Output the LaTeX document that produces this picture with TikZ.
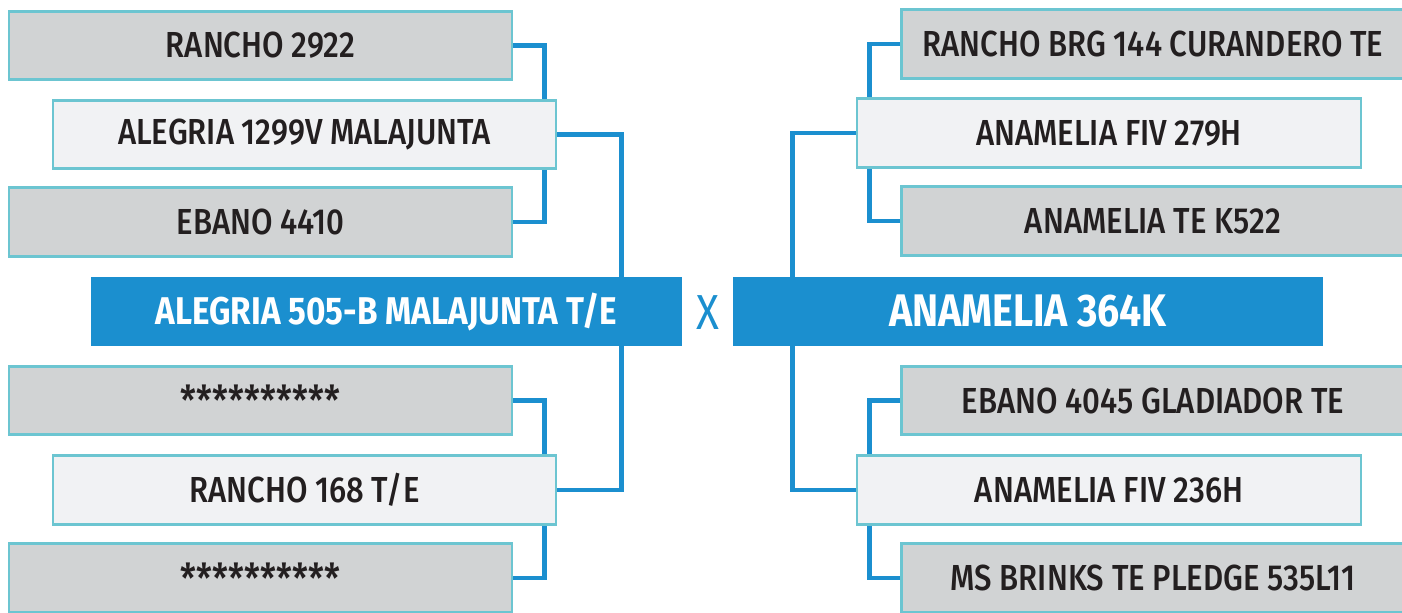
\documentclass[tikz,border=0pt]{standalone}
\usepackage{fontspec}
\setmainfont{Fira Sans}[FakeStretch=0.86]
\newfontfamily\boxfont{Fira Sans Medium}[FakeStretch=0.86]
\newfontfamily\mainfont{Fira Sans}[FakeStretch=0.86]
\usetikzlibrary{positioning}
\definecolor{boxgray}{HTML}{D1D3D4}
\definecolor{boxlight}{HTML}{F1F2F4}
\definecolor{boxedge}{HTML}{6CC5D1}
\definecolor{linkblue}{HTML}{1B8FCF}
\definecolor{textdark}{HTML}{231F20}
\newcommand{\hidden}{\raisebox{-0.3em}{\fontsize{23.5}{24}\selectfont **********}}
\tikzset{
  grandbox/.style={draw=boxedge,fill=boxgray,line width=1.6pt,inner sep=0pt,
    minimum width=10.06cm,minimum height=1.37cm,text=textdark,
    font=\boxfont\fontsize{20.6}{22}\selectfont},
  parentbox/.style={grandbox,fill=boxlight},
  mainbox/.style={fill=linkblue,inner sep=0pt,minimum width=11.82cm,
    minimum height=1.38cm,text=white,font=\mainfont\bfseries\fontsize{22}{24}\selectfont},
  link/.style={draw=linkblue,line width=2.8pt,line join=miter}
}
\begin{document}
\begin{tikzpicture}[x=0.02cm,y=-0.02cm]
  \useasboundingbox (0,0) rectangle (1402,612);
  \clip (0,0) rectangle (1402,612);

  % sire side
  \node[mainbox] (sire) at (386.5,311.5) {ALEGRIA 505-B MALAJUNTA T/E};
  \node[parentbox] (ss) at (304.5,134.5) {ALEGRIA 1299V MALAJUNTA};
  \node[parentbox] (sd) at (304.5,490) {RANCHO 168 T/E};
  \node[grandbox] (sss) at (260.5,45.5) {RANCHO 2922};
  \node[grandbox] (ssd) at (260.5,222) {EBANO 4410};
  \node[grandbox] (sds) at (260.5,400.5) {\hidden};
  \node[grandbox] (sdd) at (260.5,578) {\hidden};

  % dam side
  \node[mainbox,minimum width=11.8cm,font=\mainfont\bfseries\fontsize{26}{28}\selectfont] (dam) at (1028,311.5) {ANAMELIA 364K};
  \node[parentbox,minimum width=10.08cm] (ds) at (1109,133) {ANAMELIA FIV 279H};
  \node[parentbox,minimum width=10.08cm] (dd) at (1109,490) {ANAMELIA FIV 236H};
  \node[grandbox] (dss) at (1153,44) {RANCHO BRG 144 CURANDERO TE};
  \node[grandbox] (dsd) at (1153,221) {ANAMELIA TE K522};
  \node[grandbox] (dds) at (1153,400.5) {EBANO 4045 GLADIADOR TE};
  \node[grandbox] (ddd) at (1153,578) {MS BRINKS TE PLEDGE 535L11};

  \node[text=linkblue,font=\mainfont\fontsize{28}{30}\selectfont] (cross) at (708,313) {X};

  % sire links
  \draw[link] (sss.east) -- ++(31,0) coordinate (k1) -- (k1 |- ss.north);
  \draw[link] (ssd.east) -- ++(31,0) coordinate (k2) -- (k2 |- ss.south);
  \draw[link] (sds.east) -- ++(31,0) coordinate (k3) -- (k3 |- sd.north);
  \draw[link] (sdd.east) -- ++(31,0) coordinate (k4) -- (k4 |- sd.south);
  \draw[link] (ss.east) -- ++(64,0) coordinate (k5) -- (k5 |- sire.north);
  \draw[link] (sd.east) -- ++(64,0) coordinate (k6) -- (k6 |- sire.south);

  % dam links
  \draw[link] (dss.west) -- ++(-31,0) coordinate (k7) -- (k7 |- ds.north);
  \draw[link] (dsd.west) -- ++(-31,0) coordinate (k8) -- (k8 |- ds.south);
  \draw[link] (dds.west) -- ++(-31,0) coordinate (k9) -- (k9 |- dd.north);
  \draw[link] (ddd.west) -- ++(-31,0) coordinate (k10) -- (k10 |- dd.south);
  \draw[link] (ds.west) -- ++(-63,0) coordinate (k11) -- (k11 |- dam.north);
  \draw[link] (dd.west) -- ++(-63,0) coordinate (k12) -- (k12 |- dam.south);
\end{tikzpicture}
\end{document}
